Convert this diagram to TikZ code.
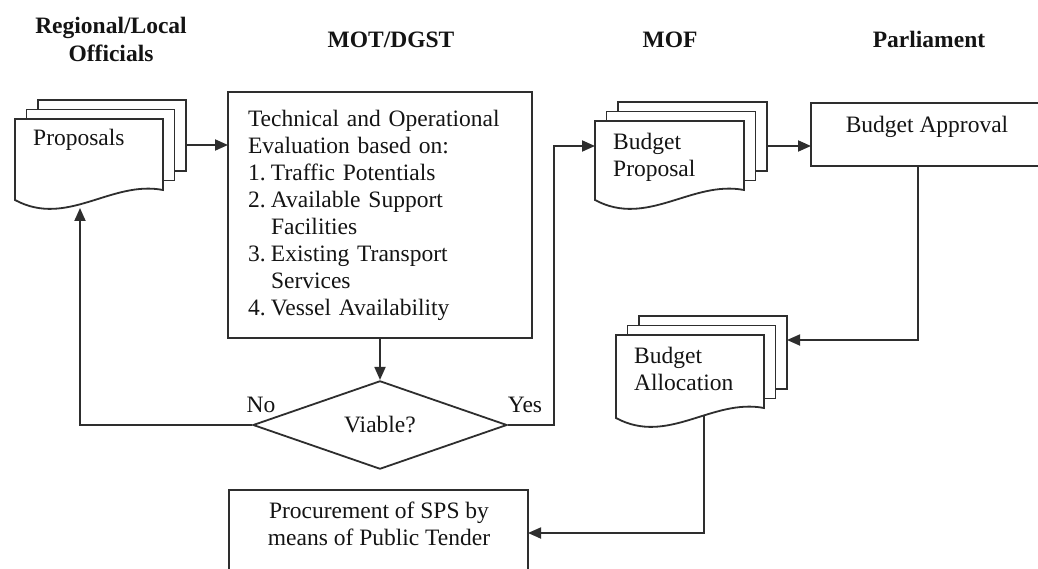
\documentclass[tikz,border=0pt]{standalone}
\usepackage{fontspec}
\setmainfont{Liberation Serif}
\usetikzlibrary{shapes.geometric,arrows.meta}

\tikzset{
  ln/.style={draw=black!82, line width=1.8pt},
  arr/.style={ln, -{Triangle[length=13pt,width=11pt]}},
  page/.style={ln, fill=white},
  frame/.style={ln, fill=white, inner sep=0},
  ghost/.style={inner sep=0, outer sep=0, anchor=north west},
  txt/.style={font=\fontsize{23.5}{27}\selectfont, inner sep=0, text=black!92},
  hdr/.style={font=\fontsize{23.5}{27}\selectfont\bfseries, inner sep=0, text=black!92, anchor=base},
}

% A stack of three pages with a wavy bottom edge on the front page.
% #1 name, #2 left, #3 top, #4 right, #5 bottom of the right edge,
% #6 text, #7 baseline of its last line below the top edge
\newcommand\docstack[7]{%
  \path[page] ({#2+23},{#3-19}) rectangle ({#4+23},{#5-19});
  \path[page] ({#2+11.5},{#3-9.5}) rectangle ({#4+11.5},{#5-9.5});
  \path[page] (#2,#3) -- (#4,#3) -- (#4,#5)
     .. controls ({#4-0.35*(#4-#2)},{#5-10}) and ({#2+0.35*(#4-#2)},{#5+38}) .. (#2,{#5+10}) -- cycle;
  \node[ghost, minimum width={(#4-#2)*1pt}, minimum height={(#5-#3+10)*1pt}] (#1) at (#2,#3) {};
  \node[ghost, minimum width={(#4-#2)*1pt}, minimum height={(#5-#3)*1pt}] (#1-mid) at ({#2+11.5},{#3-9.5}) {};
  \node[ghost, minimum width={(#4-#2)*1pt}, minimum height={(#5-#3)*1pt}] (#1-back) at ({#2+23},{#3-19}) {};
  \node[txt, align=left, anchor=base west] (#1-text) at ({#2+18},{#3+#7}) {#6};
}

\begin{document}
\begin{tikzpicture}[x=1pt,y=-1pt]
\path[use as bounding box] (0,0) rectangle (1038,569);
\clip (0,0) rectangle (1038,569);
\fill[white] (0,0) rectangle (1038,569);

% column headings
\node[hdr] (h-reg) at (111,34) {Regional/Local};
\node[hdr] (h-off) at (111,62) {Officials};
\node[hdr] (h-mot) at (391,48) {MOT/DGST};
\node[hdr] (h-mof) at (670,48) {MOF};
\node[hdr] (h-par) at (929,48) {Parliament};

% document stacks
\docstack{prop}{15}{119}{163}{190}{Proposals}{27}
\docstack{bp}{595}{121}{744}{190}{Budget\\Proposal}{56}
\docstack{ba}{616}{335}{764}{408}{Budget\\Allocation}{55}

% evaluation box
\node[frame, ghost, minimum width=304pt, minimum height=246pt, align=left,
      text width=264pt, font=\fontsize{23.5}{27}\selectfont, text=black!92] (tech) at (228,92)
  {Technical and Operational\\
   Evaluation based on:\\
   \makebox[23pt][l]{1.}Traffic Potentials\\
   \makebox[23pt][l]{2.}Available Support\\
   \hspace*{23pt}Facilities\\
   \makebox[23pt][l]{3.}Existing Transport\\
   \hspace*{23pt}Services\\
   \makebox[23pt][l]{4.}Vessel Availability};

% decision
\node[diamond, ln, fill=white, minimum width=254pt, minimum height=86pt, inner sep=0,
      font=\fontsize{23.5}{27}\selectfont, text=black!92] (dec) at (380,425) {Viable?};
\node[txt, anchor=base] (no) at (261,412) {No};
\node[txt, anchor=base] (yes) at (525,412) {Yes};

% approval and procurement boxes
\node[frame, ghost, minimum width=232pt, minimum height=63pt] (appr) at (811,103) {};
\node[txt, anchor=base] (appr-text) at (927,133) {Budget Approval};
\node[frame, ghost, minimum width=299pt, minimum height=100pt] (proc) at (229,490) {};
\node[txt, align=center, anchor=base] (proc-text) at (379,545)
  {Procurement of SPS by\\means of Public Tender};

% connectors
\coordinate (noend) at (80,208);
\coordinate (yesx) at (554,0);
\coordinate (apprx) at (918,340);
\coordinate (baout) at (704,415);
\coordinate (procy) at (0,533);

\draw[arr] (prop-back.east |- prop-mid.center) -- (tech.west |- prop-mid.center);
\draw[arr] (tech.south) -- (dec.north);
\draw[arr] (dec.west) -| (noend);
\draw[arr] (dec.east) -| (yesx |- bp-mid.center) -- (bp.west |- bp-mid.center);
\draw[arr] (bp-back.east |- bp-mid.center) -- (appr.west |- bp-mid.center);
\draw[arr] (appr.south -| apprx) |- (ba-back.east |- apprx);
\draw[arr] (baout) |- (proc.east |- procy);
\end{tikzpicture}
\end{document}
